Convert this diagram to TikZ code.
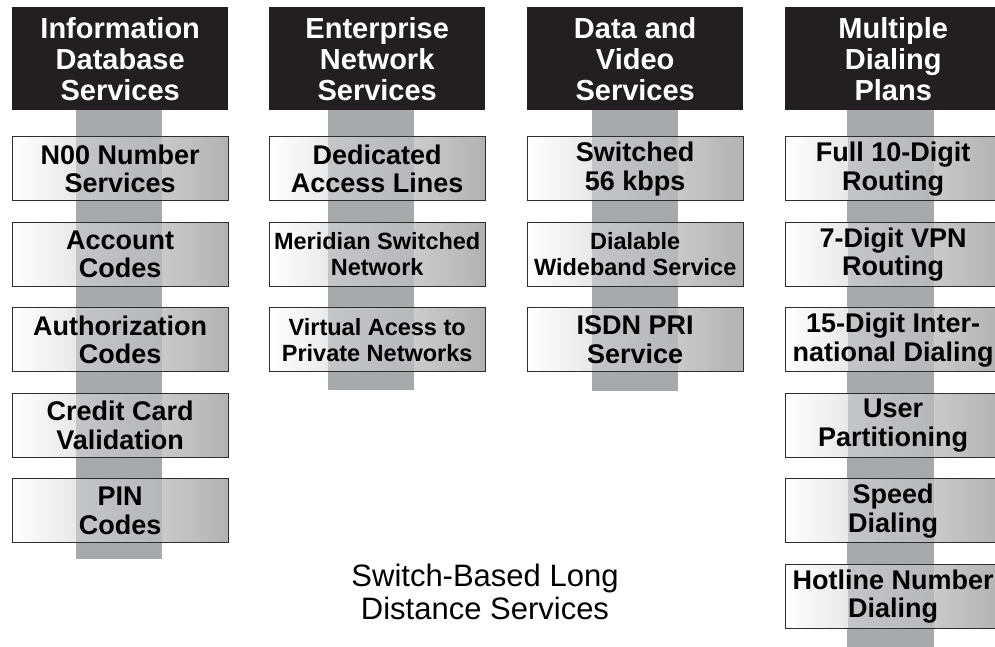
\documentclass[tikz,border=0pt]{standalone}
\usepackage{fontspec}
\setmainfont{Liberation Sans}
\usetikzlibrary{positioning}

\definecolor{hdrblack}{RGB}{35,31,32}
\definecolor{barc}{RGB}{167,169,172}
\definecolor{boxgray}{RGB}{178,178,178}
\definecolor{boxline}{RGB}{45,45,45}

\tikzset{
  hdr/.style={fill=hdrblack, text=white, font=\bfseries\fontsize{29}{31}\selectfont,
    align=center, minimum width=216pt, minimum height=103pt, inner sep=0pt, anchor=north west},
  % #1 = offset of the gray bar from the box centre
  svc/.style={draw=boxline, line width=0.9pt, left color=white, right color=boxgray,
    path picture={\fill[barc, fill opacity=0.55]
      ([xshift=#1-43pt]path picture bounding box.north) rectangle
      ([xshift=#1+43pt]path picture bounding box.south);},
    font=\bfseries\fontsize{27}{28.5}\selectfont,
    align=center, minimum width=216pt, minimum height=64pt, inner sep=0pt},
  svc/.default=0pt,
  svcsm/.style={svc=#1, font=\bfseries\fontsize{23.5}{26}\selectfont},
  svcsm/.default=0pt,
}

\begin{document}
\begin{tikzpicture}[x=1pt,y=-1pt]
        \useasboundingbox (0,0) rectangle (995,646);

        % gray bars behind each column
        \fill[barc] (76,100) rectangle (162,559);
        \fill[barc] (328,100) rectangle (414,390);
        \fill[barc] (592,100) rectangle (678,391);
        \fill[barc] (847,100) rectangle (934,650);

        % headers
        \node[hdr] (h1) at (12,7) {Information\\Database\\Services};
        \node[hdr] (h2) at (269,7) {Enterprise\\Network\\Services};
        \node[hdr] (h3) at (527,7) {Data and\\Video\\Services};
        \node[hdr] (h4) at (785,7) {Multiple\\Dialing\\Plans};

        % Information Database Services
        \node[svc=-1pt, below=26pt of h1] (n00) {N00 Number\\Services};
        \node[svc=-1pt, below=20.6pt of n00] (acct) {Account\\Codes};
        \node[svc=-1pt, below=20.6pt of acct] (auth) {Authorization\\Codes};
        \node[svc=-1pt, below=20.6pt of auth] (ccard) {Credit Card\\Validation};
        \node[svc=-1pt, below=20.6pt of ccard] (pin) {PIN\\Codes};

        % Enterprise Network Services
        \node[svc=-6pt, below=26pt of h2] (dal) {Dedicated\\Access Lines};
        \node[svcsm=-6pt, below=20.6pt of dal] (msn) {Meridian Switched\\Network};
        \node[svcsm=-6pt, below=20.6pt of msn] (vapn) {Virtual Acess to\\Private Networks};

        % Data and Video Services
        \node[svc, below=26pt of h3] (sw56) {Switched\\56 kbps};
        \node[svcsm, below=20.6pt of sw56] (dws) {Dialable\\Wideband Service};
        \node[svc, below=20.6pt of dws] (isdn) {ISDN PRI\\Service};

        % Multiple Dialing Plans
        \node[svc=-2.5pt, below=26pt of h4] (d10) {Full 10-Digit\\Routing};
        \node[svc=-2.5pt, below=20.6pt of d10] (d7) {7-Digit VPN\\Routing};
        \node[svc=-2.5pt, below=20.6pt of d7] (d15) {15-Digit Inter-\\national Dialing};
        \node[svc=-2.5pt, below=20.6pt of d15] (upart) {User\\Partitioning};
        \node[svc=-2.5pt, below=20.6pt of upart] (speed) {Speed\\Dialing};
        \node[svc=-2.5pt, below=20.6pt of speed] (hotl) {Hotline Number\\Dialing};

        \node[align=center, font=\fontsize{31}{33}\selectfont] (title) at (485,592)
          {Switch-Based Long\\Distance Services};

    \end{tikzpicture}
\end{document}
